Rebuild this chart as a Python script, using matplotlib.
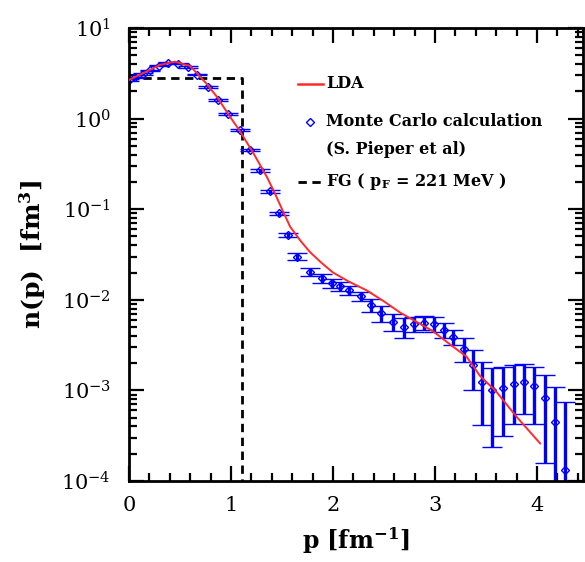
import matplotlib
matplotlib.use("Agg")
import matplotlib.pyplot as plt
from matplotlib.ticker import MultipleLocator, LogLocator, NullFormatter
from matplotlib.lines import Line2D

plt.rcParams['font.family'] = ['DejaVu Serif']
plt.rcParams['mathtext.fontset'] = 'dejavuserif'

# Monte Carlo calculation (S. Pieper et al)
mc_p = [0.00, 0.06, 0.14, 0.21, 0.29, 0.385, 0.48, 0.58, 0.67, 0.77, 0.875, 0.97,
        1.09, 1.19, 1.28, 1.38, 1.47, 1.56, 1.65, 1.77, 1.89, 1.99, 2.07, 2.16,
        2.27, 2.37, 2.47, 2.59, 2.70, 2.79, 2.89, 2.99, 3.09, 3.18, 3.28, 3.37,
        3.46, 3.56, 3.67, 3.77, 3.87, 3.97, 4.08, 4.18, 4.27]
mc_n = [2.67, 2.86, 3.10, 3.40, 3.85, 4.15, 4.05, 3.70, 3.05, 2.25, 1.60, 1.12,
        0.75, 0.45, 0.27, 0.158, 0.090, 0.052, 0.030, 0.0205, 0.0173, 0.0152, 0.0142, 0.0128,
        0.0110, 0.0088, 0.0071, 0.0057, 0.0050, 0.0054, 0.0056, 0.0054, 0.0047, 0.0039, 0.0029, 0.0019,
        0.00125, 0.00101, 0.00105, 0.00117, 0.00125, 0.00113, 0.00082, 0.00045, 0.000132]
mc_err = [0.05, 0.05, 0.05, 0.05, 0.06, 0.06, 0.06, 0.06, 0.05, 0.05, 0.04, 0.03,
          0.02, 0.015, 0.01, 0.006, 0.004, 0.003, 0.0025, 0.0022, 0.002, 0.0017, 0.0017, 0.0015,
          0.0013, 0.0015, 0.0014, 0.0012, 0.00125, 0.001, 0.001, 0.001, 0.0009, 0.00075, 0.00085, 0.0009,
          0.00083, 0.00077, 0.00074, 0.00074, 0.0007, 0.0007, 0.00066, 0.00065, 0.00062]

# LDA curve
lda_p = [0.00, 0.17, 0.30, 0.45, 0.60, 0.75, 0.86, 0.99, 1.09, 1.22, 1.35, 1.43, 1.50,
         1.58, 1.68, 1.77, 1.88, 2.00, 2.15, 2.33, 2.50, 2.66, 2.82, 2.98, 3.15, 3.31,
         3.44, 3.60, 3.80, 4.03]
lda_n = [2.67, 3.30, 3.90, 4.25, 3.80, 2.50, 1.75, 1.05, 0.72, 0.414, 0.229, 0.150, 0.100,
         0.064, 0.045, 0.034, 0.026, 0.020, 0.0160, 0.0127, 0.0096, 0.0072, 0.0057, 0.0045, 0.0032, 0.00235,
         0.00145, 0.00097, 0.00051, 0.00026]

# Fermi gas (p_F = 221 MeV)
fg_p = [0.0, 1.11, 1.11]
fg_n = [2.83, 2.83, 1e-5]

fig = plt.figure(figsize=(5.85, 5.62), dpi=100)
ax = fig.add_axes([129/585, (562-481)/562, 454/585, 453/562])

ax.plot(lda_p, lda_n, color='#ff2a2a', lw=1.4, zorder=3)
ax.errorbar(mc_p, mc_n, yerr=mc_err, fmt='D', ms=4, mfc='none', mec='#0000ff', mew=1.0,
            ecolor='#0000ff', elinewidth=2.4, capsize=7, capthick=2.4, zorder=2)
ax.plot(fg_p, fg_n, color='black', lw=2, ls=(0, (3, 2)), zorder=1)

ax.set_yscale('log')
ax.set_xlim(0, 4.45)
ax.set_ylim(1e-4, 1e1)
ax.xaxis.set_major_locator(MultipleLocator(1))
ax.xaxis.set_minor_locator(MultipleLocator(0.2))
ax.yaxis.set_major_locator(LogLocator(base=10, numticks=10))
ax.yaxis.set_minor_locator(LogLocator(base=10, subs=range(2, 10), numticks=20))
ax.yaxis.set_minor_formatter(NullFormatter())
ax.tick_params(which='both', direction='in', top=True, right=True, width=1.6, labelsize=15)
ax.tick_params(which='major', length=11)
ax.tick_params(which='minor', length=6)
ax.tick_params(axis='y', pad=13)
ax.tick_params(axis='x', pad=11)
for s in ax.spines.values():
    s.set_linewidth(2)

ax.set_xlabel(r'p [fm$^{\mathbf{-1}}$]', fontsize=17, fontweight='bold', labelpad=7)
ax.set_ylabel(r'n(p)  [fm$^{\mathbf{3}}$]', fontsize=18, fontweight='bold', labelpad=10)

# legend drawn manually
def fx(px):
    return (px - 129) / 454
def fy(py):
    return (481 - py) / 453

lx0, lx1, tx = fx(298), fx(323), fx(326)
ax.add_line(Line2D([lx0, lx1], [fy(84), fy(84)], transform=ax.transAxes, color='#ff2a2a', lw=1.8))
ax.text(tx, fy(84), 'LDA', transform=ax.transAxes, fontsize=11.5, fontweight='bold', va='center', ha='left')
ax.add_line(Line2D([fx(310)], [fy(122)], transform=ax.transAxes, marker='D', ms=4, mfc='none',
                   mec='#0000ff', mew=1.0, ls='none'))
ax.text(tx, fy(122), 'Monte Carlo calculation', transform=ax.transAxes, fontsize=11.5,
        fontweight='bold', va='center', ha='left')
ax.text(tx, fy(149), '(S. Pieper et al)', transform=ax.transAxes, fontsize=11.5,
        fontweight='bold', va='center', ha='left')
ax.add_line(Line2D([lx0, lx1], [fy(182), fy(182)], transform=ax.transAxes, color='black', lw=2,
                   ls=(0, (3, 2))))
ax.text(tx, fy(182), r'FG ( p$_{\mathbf{F}}$ = 221 MeV )', transform=ax.transAxes, fontsize=11.5,
        fontweight='bold', va='center', ha='left')

fig.savefig('out.png', dpi=100)
